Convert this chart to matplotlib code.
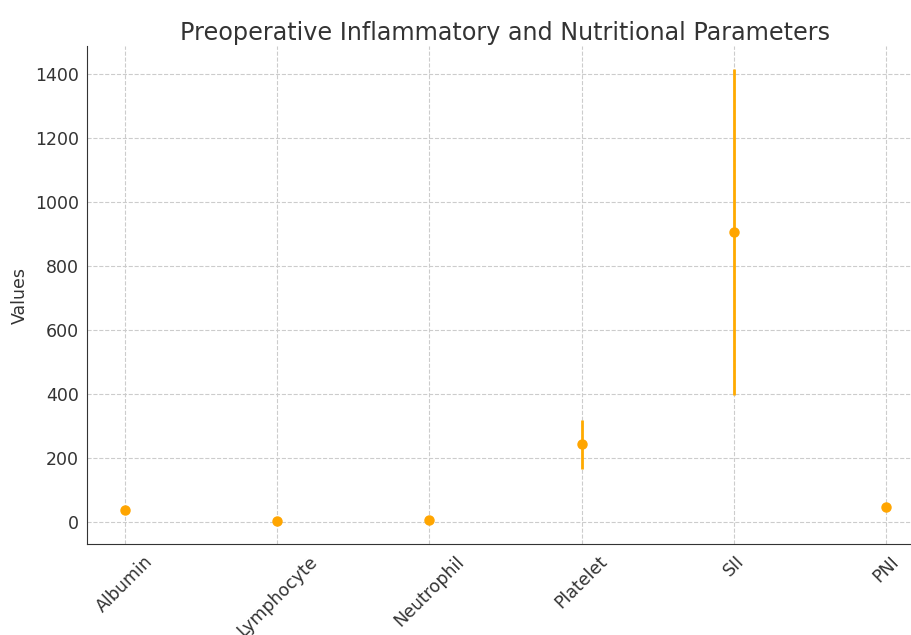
import matplotlib
matplotlib.use("Agg")
import matplotlib.pyplot as plt

parameters = ["Albumin", "Lymphocyte", "Neutrophil", "Platelet", "SII", "PNI"]
means = [38, 1.5, 5.5, 243, 908, 45]
errors = [0, 0, 0, 77, 510, 0]

fig = plt.figure(figsize=(9.12, 6.35), dpi=100)
ax = fig.add_axes([87 / 912, 91 / 635, 837 / 912, 498 / 635])

ax.errorbar(parameters, means, yerr=errors, fmt="o", color="#ffa500",
            ecolor="#ffaa00", elinewidth=2, markersize=6.5, capsize=0)

ax.set_title("Preoperative Inflammatory and Nutritional Parameters",
             fontsize=17.2, color="#333333", pad=4)
ax.set_ylabel("Values", fontsize=12.5, color="#333333", labelpad=4)
ax.grid(True, linestyle="--", color="#cccccc", linewidth=0.8)
ax.set_axisbelow(True)
ax.spines["top"].set_visible(False)
ax.spines["right"].set_visible(False)
ax.spines["left"].set_color("#333333")
ax.spines["bottom"].set_color("#333333")
ax.tick_params(colors="#333333", labelsize=12.5, length=0, pad=6)
plt.setp(ax.get_xticklabels(), rotation=45)

plt.savefig("out.png", dpi=100)
plt.close()
